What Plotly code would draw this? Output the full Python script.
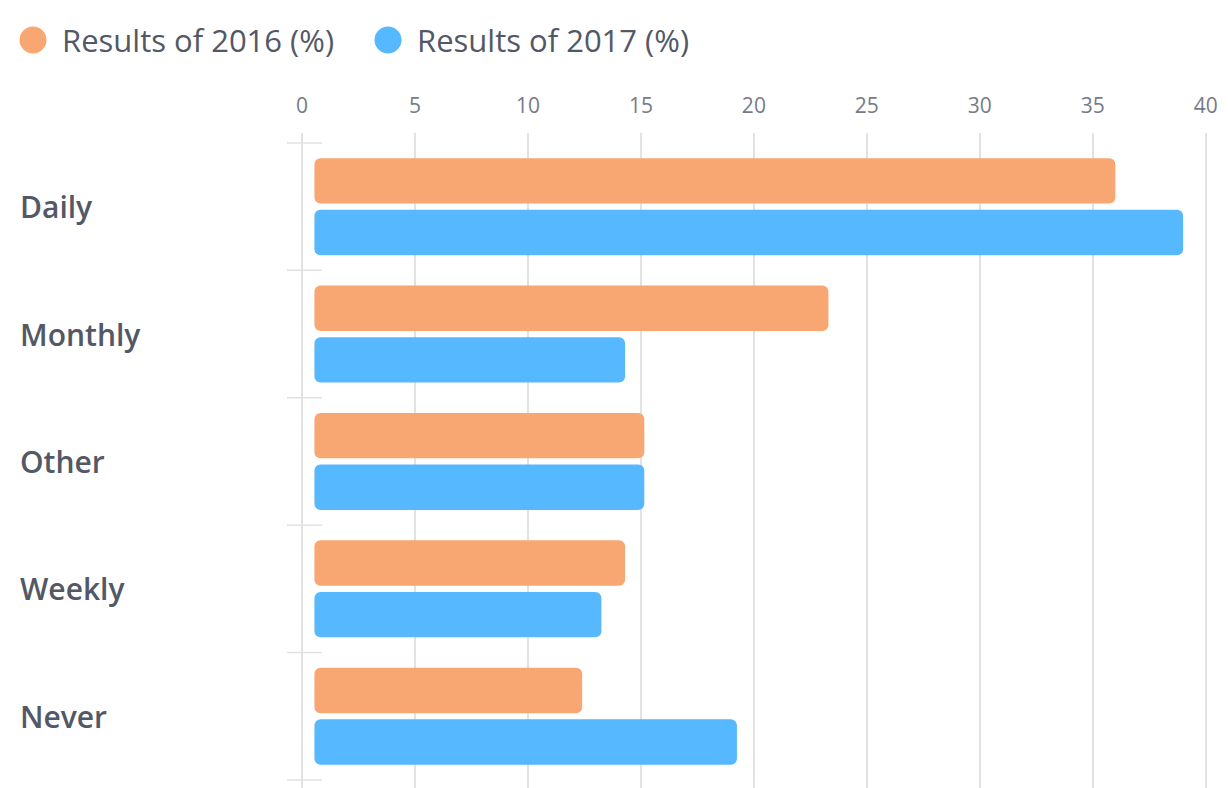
import plotly.graph_objects as go

# =============================================================================
# DATA
# =============================================================================

categories = ["Daily", "Monthly", "Other", "Weekly", "Never"]
series_names = ["Results of 2016 (%)", "Results of 2017 (%)"]
results_2016 = [36.0, 23.3, 15.15, 14.3, 12.4]
results_2017 = [39.0, 14.3, 15.15, 13.25, 19.25]
x_ticks = [0, 5, 10, 15, 20, 25, 30, 35, 40]

# =============================================================================
# STYLE
# =============================================================================

COLORS = ["#F8A672", "#56B8FF"]
TEXT_DARK = "#535866"
TEXT_GREY = "#767b88"
GRID = "#e2e2e2"
FONT = "Open Sans"
BAR_PAD = 0.55          # bars start a little right of the zero line

# the page body has an 8px margin, so the figure sits at (8, 8)
OFF = 8
W, H = 1228 - OFF, 788 - OFF
M_L, M_R, M_T, M_B = 302 - OFF, 20, 133 - OFF, 0
PLOT_W = W - M_L - M_R
PLOT_H = H - M_T - M_B


def px_x(px):
    # page pixel -> paper x
    return (px - OFF - M_L) / PLOT_W


def px_y(py):
    # page pixel -> paper y
    return (H - M_B - (py - OFF)) / PLOT_H


fig = go.Figure()

for name, values, color in zip(series_names, [results_2016, results_2017], COLORS):
    fig.add_trace(go.Bar(
        name=name,
        y=categories,
        x=[v - BAR_PAD for v in values],
        base=BAR_PAD,
        customdata=values,
        hovertemplate="%{y}: %{customdata}<extra>" + name + "</extra>",
        orientation="h",
        marker=dict(color=color, cornerradius=6, line=dict(width=0)),
        showlegend=False,
    ))

# custom legend: big circles + text
legend_x = [33, 388]
for i, (name, color) in enumerate(zip(series_names, COLORS)):
    fig.add_shape(
        type="circle", xref="paper", yref="paper",
        xsizemode="pixel", ysizemode="pixel",
        xanchor=px_x(legend_x[i]), yanchor=px_y(40),
        x0=-13.5, x1=13.5, y0=-13.5, y1=13.5,
        fillcolor=color, line=dict(width=0),
    )
    fig.add_annotation(
        xref="paper", yref="paper",
        x=px_x(legend_x[i] + 27), y=px_y(40),
        xanchor="left", yanchor="middle",
        text=name, showarrow=False,
        font=dict(family=FONT, size=31, color=TEXT_DARK),
    )

# left-aligned category labels
for cat in categories:
    fig.add_annotation(
        xref="paper", yref="y",
        x=px_x(18), y=cat,
        xanchor="left", yanchor="middle",
        text=cat, showarrow=False,
        font=dict(family=FONT, size=30, color=TEXT_DARK, weight=600),
    )

# short tick marks at category boundaries, crossing the axis line
for i in range(len(categories) + 1):
    fig.add_shape(
        type="line", xref="paper", yref="y",
        x0=px_x(287), x1=px_x(322), y0=i - 0.5, y1=i - 0.5,
        line=dict(color=GRID, width=1.5),
    )

fig.update_layout(
    width=W, height=H,
    margin=dict(l=M_L, r=M_R, t=M_T, b=M_B),
    paper_bgcolor="white",
    plot_bgcolor="white",
    barmode="group",
    bargap=0.19,
    bargroupgap=0.12,
    font=dict(family=FONT, color=TEXT_GREY),
    showlegend=False,
)

fig.update_xaxes(
    side="top",
    range=[0, 40.1],
    tickvals=x_ticks,
    ticks="",
    ticklabelstandoff=15,
    tickfont=dict(family=FONT, size=21, color=TEXT_GREY),
    showgrid=True, gridcolor=GRID, gridwidth=1.5,
    zeroline=True, zerolinecolor=GRID, zerolinewidth=1.5,
    showline=False,
)

fig.update_yaxes(
    type="category",
    categoryorder="array", categoryarray=categories,
    range=[len(categories) - 0.5 + 0.063, -0.5 - 0.078],
    showticklabels=False,
    ticks="",
    showgrid=False,
    zeroline=False,
    showline=False,
)

fig.write_html("out.html")
